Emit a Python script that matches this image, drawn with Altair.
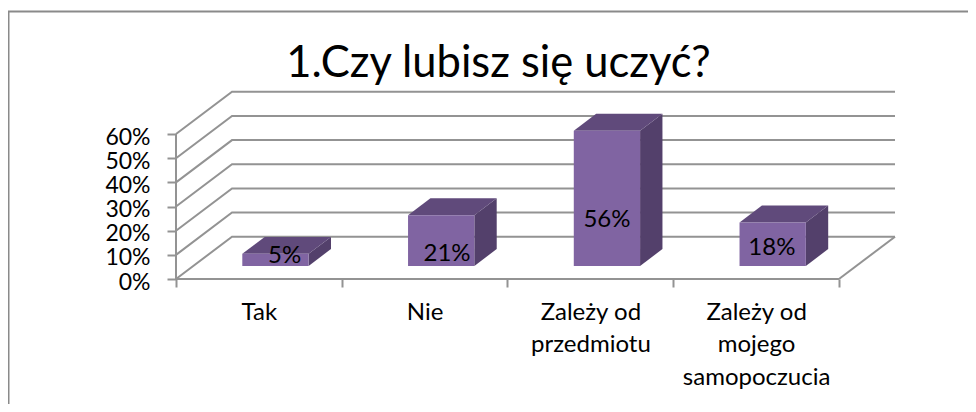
import altair as alt
import pandas as pd

categories = ["Tak", "Nie", "Zależy od przedmiotu", "Zależy od mojego samopoczucia"]
values = [0.05, 0.21, 0.56, 0.18]
value_labels = ["5%", "21%", "56%", "18%"]
label_x_shift = [0.055, 0.035, 0.0, -0.005]
label_heights = [0.096, 0.104, 0.245, 0.129]
y_ticks = [0.0, 0.1, 0.2, 0.3, 0.4, 0.5, 0.6]

FONT = "Lato"
GRID = "#939393"
FRONT = "#8064A2"
TOP = "#604A7B"
SIDE = "#53406B"

# projection of the pseudo 3D box, in data units
WALL_DX = 0.338
WALL_DY = 0.175
BAR_DX = 0.135
BAR_DY = 0.07
BAR_LEFT = 0.40
BAR_WIDTH = 0.40
BAR_FLOOR = 0.054

X = alt.Scale(domain=[0, 4 + WALL_DX], nice=False, zero=False)
Y = alt.Scale(domain=[0, 0.774], nice=False, zero=False)

wrapped = {
    0: ["Tak"],
    1: ["Nie"],
    2: ["Zależy od", "przedmiotu"],
    3: ["Zależy od", "mojego", "samopoczucia"],
}
label_expr = (
    "datum.value % 1 ? "
    + str([wrapped[i] for i in range(len(categories))])
    + "[floor(datum.value)] : ''"
)
X_AXIS = alt.Axis(
    values=[0, 0.5, 1, 1.5, 2, 2.5, 3, 3.5, 4],
    domain=False,
    grid=False,
    title=None,
    tickColor=GRID,
    tickWidth=2,
    tickSize=8,
    tickOpacity={"condition": {"test": "datum.value % 1 == 0", "value": 1}, "value": 0},
    labelExpr=label_expr,
    labelFont=FONT,
    labelFontSize=24,
    labelColor="#000000",
    labelPadding=13,
    labelLineHeight=32.5,
    labelOverlap=False,
    labelFlush=False,
    labelBound=False,
    labelAngle=0,
    labelBaseline="top",
)
Y_AXIS = alt.Axis(
    values=y_ticks,
    format=".0%",
    domain=False,
    grid=False,
    title=None,
    tickColor=GRID,
    tickWidth=2,
    tickSize=9,
    labelFont=FONT,
    labelFontSize=23,
    labelColor="#000000",
    labelPadding=17,
    labelOffset=3,
    labelOverlap=False,
    labelFlush=False,
    labelBound=False,
)
xq = lambda f="x": alt.X(f"{f}:Q", scale=X, axis=X_AXIS)
yq = lambda f="y": alt.Y(f"{f}:Q", scale=Y, axis=Y_AXIS)

wall_rows = []
for t in y_ticks:
    wall_rows += [
        dict(g=t, i=0, x=0, y=t),
        dict(g=t, i=1, x=WALL_DX, y=t + WALL_DY),
        dict(g=t, i=2, x=4 + WALL_DX, y=t + WALL_DY),
    ]
wall_rows += [
    dict(g="floor", i=0, x=4, y=0),
    dict(g="floor", i=1, x=4 + WALL_DX, y=WALL_DY),
    dict(g="axis", i=0, x=0, y=0),
    dict(g="axis", i=1, x=0, y=y_ticks[-1]),
    dict(g="base", i=0, x=0, y=0),
    dict(g="base", i=1, x=4, y=0),
]
walls = (
    alt.Chart(pd.DataFrame(wall_rows).astype({"g": str}))
    .mark_line(color=GRID, strokeWidth=2, clip=False)
    .encode(x=xq(), y=yq(), detail="g:N", order="i:Q")
)

front_rows, top_rows, side_rows = [], [], []
for k, v in enumerate(values):
    x0 = k + BAR_LEFT
    x1 = x0 + BAR_WIDTH
    b = BAR_FLOOR
    front_rows.append(dict(x=x0, x2=x1, y=b, y2=b + v))
    top_rows += [
        dict(k=k, y=b + v, x=x0, x2=x1),
        dict(k=k, y=b + v + BAR_DY, x=x0 + BAR_DX, x2=x1 + BAR_DX),
    ]
    side_rows += [
        dict(k=k, x=x1, y=b, y2=b + v),
        dict(k=k, x=x1 + BAR_DX, y=b + BAR_DY, y2=b + v + BAR_DY),
    ]

front = (
    alt.Chart(pd.DataFrame(front_rows))
    .mark_rect(color=FRONT)
    .encode(x=xq(), x2="x2:Q", y=yq(), y2="y2:Q")
)
top = (
    alt.Chart(pd.DataFrame(top_rows))
    .mark_area(color=TOP, orient="horizontal")
    .encode(y=yq(), x=xq(), x2="x2:Q", detail="k:N")
)
side = (
    alt.Chart(pd.DataFrame(side_rows))
    .mark_area(color=SIDE, orient="vertical")
    .encode(x=xq(), y=yq(), y2="y2:Q", detail="k:N")
)

labels_df = pd.DataFrame(
    dict(
        x=[k + BAR_LEFT + BAR_WIDTH / 2 + s for k, s in enumerate(label_x_shift)],
        y=label_heights,
        t=value_labels,
    )
)
labels = (
    alt.Chart(labels_df)
    .mark_text(font=FONT, fontSize=24, color="#000000", baseline="middle")
    .encode(x=xq(), y=yq(), text="t:N")
)

axis_df = pd.DataFrame(dict(x=[0.0], y=[0.0]))
frame_top = (
    alt.Chart(axis_df)
    .mark_rule(stroke="#8a8a8a", strokeWidth=2, clip=False)
    .encode(x=alt.value(-168), x2=alt.value(792), y=alt.value(-80.5))
)
frame_left = (
    alt.Chart(axis_df)
    .mark_rule(stroke="#8a8a8a", strokeWidth=3, clip=False)
    .encode(x=alt.value(-168), y=alt.value(-80.5), y2=alt.value(312))
)

chart = (
    alt.layer(frame_top, frame_left, walls, side, top, front, labels)
    .properties(
        width=719,
        height=187,
        padding={"left": 168, "top": 84, "right": 73, "bottom": 125},
        autosize=alt.AutoSizeParams(type="none"),
        background="#ffffff",
        title=alt.TitleParams(
            "1.Czy lubisz się uczyć?",
            font=FONT,
            fontSize=43.5,
            fontWeight="normal",
            color="#000000",
            anchor="middle",
            dx=-37,
            dy=76,
            offset=0,
        ),
    )
    .configure_view(stroke="transparent", strokeWidth=0)
)

chart.save("out.html", embed_options={"renderer": "svg", "actions": False})
